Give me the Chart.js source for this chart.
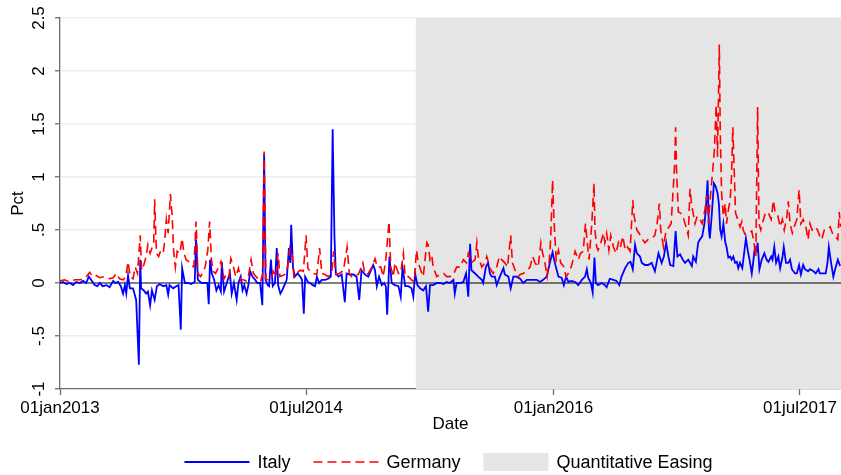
<!DOCTYPE html>
<html>
<head>
<meta charset="utf-8">
<script src="https://cdn.jsdelivr.net/npm/chart.js@4.4.1/dist/chart.umd.min.js"></script>
<style>
html,body{margin:0;padding:0;background:#ffffff;}
canvas{display:block;}
</style>
</head>
<body>
<canvas id="c" width="841" height="475"></canvas>
<script>
// x values are days since 01jan2013
const italyDays = [0,7,14,22,29,36,44,51,58,64,69,77,83,88,95,103,110,118,123,129,135,140,144,147,151,155,162,169,175,178,180,186,191,195,200,204,210,215,221,229,236,240,243,251,258,263,268,271,277,284,291,299,302,306,314,321,327,330,333,337,342,347,352,357,359,364,370,377,381,386,392,396,401,405,409,414,418,422,427,433,438,444,449,453,456,461,464,468,472,477,481,484,489,493,498,503,508,511,513,517,521,527,533,537,541,544,550,555,561,566,570,575,581,588,595,601,605,609,612,618,625,632,636,643,651,658,664,669,677,684,692,695,699,703,708,714,719,723,726,731,736,743,751,756,760,766,773,780,784,788,793,799,806,812,817,821,828,836,843,851,858,865,873,876,880,888,895,901,906,910,913,921,928,936,939,945,950,954,958,965,969,976,984,987,995,1000,1006,1013,1021,1028,1036,1043,1050,1058,1065,1072,1080,1087,1093,1098,1106,1113,1118,1123,1128,1135,1143,1150,1158,1165,1169,1172,1178,1182,1186,1189,1194,1202,1209,1213,1220,1228,1235,1241,1246,1254,1261,1266,1271,1276,1280,1287,1291,1298,1305,1313,1320,1328,1335,1340,1345,1350,1354,1361,1366,1370,1376,1382,1387,1394,1402,1405,1411,1416,1420,1425,1430,1433,1437,1440,1442,1446,1451,1455,1459,1462,1465,1468,1472,1476,1479,1483,1487,1490,1494,1498,1502,1505,1509,1514,1522,1526,1530,1535,1538,1542,1546,1548,1552,1557,1563,1568,1572,1578,1581,1585,1589,1594,1598,1603,1606,1611,1616,1620,1624,1631,1635,1640,1644,1649,1653,1660,1664,1672,1677,1683,1686,1694,1699,1703,1706,1711,1716,1720,1726,1731];
const italyPct = [0.00,0.01,-0.01,0.00,-0.02,0.01,0.00,0.02,0.00,0.06,0.03,-0.02,-0.03,0.00,-0.03,-0.02,-0.04,0.02,0.00,0.01,-0.03,-0.10,-0.02,-0.10,0.07,-0.05,-0.05,-0.16,-0.77,0.22,-0.05,-0.07,-0.10,-0.08,-0.21,-0.07,-0.16,-0.03,-0.01,-0.03,-0.02,-0.11,-0.02,-0.05,-0.03,-0.02,-0.44,0.14,0.00,0.00,-0.01,0.01,0.41,0.03,0.00,0.00,0.00,-0.20,0.22,0.09,0.03,-0.07,-0.02,-0.08,0.20,-0.08,0.00,0.09,-0.10,0.00,-0.16,0.00,0.06,-0.07,-0.02,-0.10,-0.02,0.11,0.06,0.03,0.00,0.00,-0.21,1.22,0.03,-0.02,-0.03,0.22,-0.03,0.00,0.33,-0.02,-0.10,-0.07,-0.02,0.03,0.33,0.19,0.55,0.15,0.06,0.09,0.06,0.03,-0.29,0.06,0.01,0.00,-0.02,-0.03,0.06,0.00,0.03,0.03,0.04,0.06,1.45,0.44,0.09,0.06,0.08,-0.18,0.09,0.08,0.08,0.06,-0.16,0.12,0.08,0.06,0.14,0.17,0.12,-0.03,0.06,-0.02,0.00,-0.03,-0.30,0.25,0.00,-0.02,-0.03,-0.13,0.15,-0.03,-0.03,-0.05,-0.13,0.09,-0.02,-0.05,-0.07,-0.03,-0.27,-0.02,-0.02,0.00,0.00,-0.01,0.01,0.00,0.03,-0.10,0.00,0.00,0.01,0.09,-0.13,0.37,0.12,0.09,0.06,0.03,0.00,0.15,0.19,0.09,0.06,0.06,-0.02,0.06,0.14,0.08,0.06,-0.05,0.06,0.06,0.04,0.00,0.03,0.03,0.03,0.03,0.01,0.03,0.06,0.19,0.29,0.19,0.06,0.05,-0.02,0.06,0.01,0.02,0.01,-0.02,0.03,0.06,0.13,0.05,0.00,-0.09,0.24,0.00,-0.02,0.00,-0.02,-0.04,0.04,0.03,0.02,-0.02,0.06,0.14,0.19,0.20,0.13,0.36,0.28,0.25,0.19,0.17,0.17,0.19,0.11,0.28,0.19,0.25,0.38,0.25,0.17,0.16,0.49,0.25,0.27,0.22,0.19,0.22,0.16,0.25,0.20,0.38,0.41,0.44,0.56,0.69,0.97,0.50,0.42,0.63,0.94,0.91,0.85,0.75,0.50,0.44,0.56,0.39,0.34,0.24,0.25,0.22,0.25,0.19,0.20,0.14,0.19,0.14,0.42,0.31,0.22,0.09,0.19,0.34,0.31,0.38,0.13,0.22,0.28,0.22,0.20,0.25,0.22,0.34,0.19,0.25,0.14,0.24,0.34,0.19,0.19,0.22,0.13,0.09,0.09,0.17,0.08,0.17,0.13,0.11,0.13,0.11,0.09,0.13,0.09,0.09,0.09,0.19,0.34,0.19,0.06,0.13,0.22,0.16];

const germanyDays = [0,10,22,33,44,55,66,73,81,88,99,110,118,125,132,140,146,151,156,162,167,172,178,181,186,191,195,200,204,208,210,214,219,223,229,232,236,240,245,249,252,256,260,266,271,275,280,286,291,297,302,306,312,318,322,328,332,336,340,345,351,357,364,370,375,379,385,390,396,401,407,413,418,424,429,435,440,445,450,453,457,462,468,473,479,484,488,494,499,505,510,515,519,525,533,540,546,550,555,562,570,576,581,588,595,603,607,612,620,629,637,642,647,655,662,672,677,684,692,699,704,712,717,723,730,734,740,743,751,756,762,766,773,780,786,791,795,803,806,814,817,821,825,828,836,843,851,858,865,873,880,888,895,902,906,913,921,925,928,936,943,947,954,961,969,975,980,987,993,1000,1004,1010,1017,1021,1028,1036,1043,1049,1054,1061,1067,1071,1076,1081,1086,1089,1093,1096,1101,1106,1111,1117,1123,1128,1135,1143,1150,1155,1161,1166,1170,1174,1180,1185,1187,1191,1194,1200,1206,1209,1213,1218,1222,1228,1234,1239,1243,1249,1254,1259,1265,1271,1274,1280,1285,1291,1298,1305,1313,1320,1325,1330,1333,1339,1345,1350,1356,1361,1364,1366,1368,1372,1377,1382,1387,1391,1394,1398,1402,1405,1409,1414,1420,1425,1431,1435,1439,1442,1447,1452,1456,1459,1463,1465,1468,1472,1476,1479,1483,1487,1490,1493,1496,1499,1504,1509,1513,1516,1520,1527,1535,1540,1544,1548,1551,1555,1561,1566,1572,1578,1583,1587,1593,1598,1603,1607,1613,1616,1620,1625,1629,1635,1640,1644,1649,1655,1660,1664,1669,1675,1681,1686,1690,1696,1701,1709,1714,1720,1726,1729,1732];
const germanyPct = [0.02,0.03,0.01,0.03,0.03,0.04,0.10,0.06,0.07,0.05,0.06,0.04,0.05,0.09,0.04,0.03,0.06,0.20,0.06,0.04,0.15,0.09,0.45,0.12,0.17,0.25,0.36,0.28,0.33,0.38,0.79,0.28,0.25,0.30,0.28,0.38,0.60,0.47,0.84,0.63,0.31,0.15,0.30,0.28,0.42,0.28,0.22,0.20,0.17,0.15,0.58,0.09,0.06,0.11,0.15,0.31,0.58,0.22,0.11,0.09,0.14,0.20,0.04,0.09,0.06,0.23,0.15,0.06,0.14,0.03,0.03,0.02,0.06,0.22,0.09,0.06,0.04,0.01,0.09,1.24,0.03,0.03,0.03,0.11,0.06,0.28,0.06,0.07,0.08,0.15,0.33,0.28,0.06,0.09,0.12,0.11,0.45,0.14,0.11,0.09,0.08,0.33,0.09,0.08,0.06,0.09,0.30,0.08,0.09,0.12,0.34,0.09,0.06,0.08,0.08,0.19,0.08,0.09,0.15,0.23,0.15,0.15,0.06,0.22,0.58,0.15,0.06,0.19,0.09,0.09,0.28,0.06,0.06,0.03,0.01,0.31,0.19,0.09,0.06,0.38,0.36,0.22,0.26,0.15,0.06,0.08,0.09,0.06,0.06,0.08,0.15,0.15,0.22,0.19,0.28,0.19,0.22,0.38,0.25,0.15,0.19,0.25,0.14,0.09,0.15,0.25,0.22,0.19,0.15,0.45,0.19,0.12,0.06,0.08,0.09,0.12,0.15,0.25,0.19,0.15,0.38,0.28,0.19,0.06,0.22,0.44,0.97,0.60,0.22,0.31,0.19,0.16,0.06,0.09,0.16,0.30,0.22,0.28,0.30,0.56,0.38,0.22,0.56,0.94,0.50,0.34,0.31,0.38,0.47,0.38,0.47,0.31,0.45,0.34,0.28,0.38,0.33,0.44,0.31,0.34,0.30,0.78,0.63,0.50,0.47,0.42,0.38,0.41,0.42,0.45,0.56,0.75,0.50,0.34,0.50,0.52,0.56,0.91,1.13,1.47,1.07,0.67,0.66,0.63,0.56,0.50,0.45,0.89,0.72,0.66,0.56,0.63,0.60,0.56,0.69,0.82,0.56,0.75,1.00,1.25,1.68,1.19,2.25,1.44,0.85,0.63,0.75,0.56,0.69,0.78,1.00,1.47,1.07,0.66,0.60,0.53,0.58,0.50,0.46,0.47,0.49,0.38,0.25,1.66,0.56,0.50,0.60,0.67,0.66,0.60,0.78,0.66,0.63,0.53,0.60,0.50,0.63,0.77,0.56,0.47,0.53,0.60,0.88,0.56,0.60,0.53,0.41,0.56,0.50,0.53,0.50,0.44,0.41,0.50,0.50,0.53,0.47,0.44,0.41,0.67,0.53];

const xTickValues = [0, 546, 1095, 1642];
const xTickLabels = ['01jan2013', '01jul2014', '01jan2016', '01jul2017'];
const yTickValues = [-1, -0.5, 0, 0.5, 1, 1.5, 2, 2.5];
const yTickLabels = ['-1', '-.5', '0', '.5', '1', '1.5', '2', '2.5'];
const xMin = 0, xMax = 1733;
const yMin = -1, yMax = 2.5;
const qeStart = 789, qeEnd = 1733;
const legendLabels = ['Italy', 'Germany', 'Quantitative Easing'];

const FONT = "'Liberation Sans', Arial, Helvetica, sans-serif";
const BLUE = '#0000ff', RED = '#ff0000', QEGRAY = '#e5e5e5', AXIS = '#6e6e6e';

const toPts = (xs, ys) => xs.map((x, i) => ({x: x, y: ys[i]}));

const legendPlugin = {
  id: 'stataLegend',
  afterDraw(chart) {
    const ctx = chart.ctx;
    ctx.save();
    ctx.font = '18px ' + FONT;
    ctx.textBaseline = 'middle';
    ctx.textAlign = 'left';
    const sw = 65, gap = 8, spacing = 23;
    const widths = legendLabels.map(t => ctx.measureText(t).width);
    const total = widths.reduce((a, b) => a + b, 0) + 3 * (sw + gap) + 2 * spacing;
    const cx = (chart.chartArea.left + chart.chartArea.right) / 2 - 2;
    let x = cx - total / 2;
    const y = 462;
    legendLabels.forEach((t, i) => {
      if (i === 0) {
        ctx.strokeStyle = BLUE; ctx.lineWidth = 1.8; ctx.setLineDash([]);
        ctx.beginPath(); ctx.moveTo(x, y); ctx.lineTo(x + sw, y); ctx.stroke();
      } else if (i === 1) {
        ctx.strokeStyle = RED; ctx.lineWidth = 1.6; ctx.setLineDash([9, 5]);
        ctx.beginPath(); ctx.moveTo(x, y); ctx.lineTo(x + sw, y); ctx.stroke();
        ctx.setLineDash([]);
      } else {
        ctx.fillStyle = QEGRAY; ctx.fillRect(x, y - 9, sw, 18);
      }
      ctx.fillStyle = '#000';
      ctx.fillText(t, x + sw + gap, y + 1);
      x += sw + gap + widths[i] + spacing;
    });
    ctx.restore();
  }
};

new Chart(document.getElementById('c').getContext('2d'), {
  type: 'line',
  data: {
    datasets: [
      {label: 'Italy', data: toPts(italyDays, italyPct), borderColor: BLUE, borderWidth: 1.8,
       pointRadius: 0, fill: false, tension: 0, order: 2},
      {label: 'Germany', data: toPts(germanyDays, germanyPct), borderColor: RED, borderWidth: 1.6,
       borderDash: [9, 5], pointRadius: 0, fill: false, tension: 0, order: 1},
      {label: 'zero', data: [{x: xMin, y: 0}, {x: xMax, y: 0}], borderColor: '#000000', borderWidth: 1.2,
       pointRadius: 0, fill: false, order: 3},
      {label: 'Quantitative Easing', data: [{x: qeStart, y: yMax}, {x: qeEnd, y: yMax}], borderWidth: 0,
       borderColor: 'rgba(0,0,0,0)', backgroundColor: QEGRAY, fill: {value: yMin}, pointRadius: 0, order: 4}
    ]
  },
  options: {
    responsive: false,
    animation: false,
    devicePixelRatio: 1,
    layout: {padding: {top: 18, right: 0, bottom: 38, left: 0}},
    plugins: {legend: {display: false}, tooltip: {enabled: false}},
    scales: {
      x: {
        type: 'linear', min: xMin, max: xMax, z: 1,
        grid: {drawOnChartArea: false, drawTicks: true, tickLength: 6, tickColor: AXIS, tickWidth: 1.3},
        border: {display: true, color: AXIS, width: 1.3},
        afterBuildTicks: s => { s.ticks = xTickValues.map(v => ({value: v})); },
        ticks: {autoSkip: false, maxRotation: 0, minRotation: 0, padding: 3, color: '#000',
          font: {family: FONT, size: 17}, callback: v => xTickLabels[xTickValues.indexOf(v)]},
        title: {display: true, text: 'Date', color: '#000', font: {family: FONT, size: 17}, padding: {top: 0, bottom: 2}},
        afterFit: s => { s.height = 48; }
      },
      y: {
        type: 'linear', min: yMin, max: yMax,
        grid: {
          color: c => (c.tick && (c.tick.value === yMin || c.tick.value === 0)) ? 'rgba(0,0,0,0)' : '#e9eff1',
          lineWidth: 1.5, drawTicks: true, tickLength: 5, tickColor: AXIS, tickWidth: 1.3
        },
        border: {display: true, color: AXIS, width: 1.3},
        afterBuildTicks: s => { s.ticks = yTickValues.map(v => ({value: v})); },
        ticks: {minRotation: 90, maxRotation: 90, crossAlign: 'center', padding: 4, color: '#000',
          font: {family: FONT, size: 17}, callback: v => yTickLabels[yTickValues.indexOf(v)]},
        title: {display: true, text: 'Pct', color: '#000', font: {family: FONT, size: 17}, padding: {top: 8, bottom: 0}},
        afterFit: s => { s.width = 60; }
      }
    }
  },
  plugins: [legendPlugin]
});
</script>
</body>
</html>
